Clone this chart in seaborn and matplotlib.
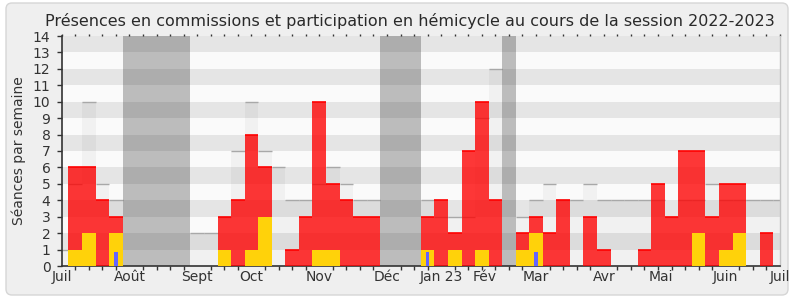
import matplotlib
matplotlib.use("Agg")
import matplotlib.pyplot as plt
import matplotlib.transforms as mtransforms
from matplotlib.patches import FancyBboxPatch
import numpy as np
import pandas as pd
import seaborn as sns

# ---------------- data (one value per week, week 0 = last week of June 2022) ----
semaines = list(range(0, 54))
commission = [0, 6, 6, 4, 3, 0, 0, 0, 0, 0,
              0, 0, 3, 4, 8, 6, 0, 1, 3, 10,
              5, 4, 3, 3, 0, 0, 0, 3, 4, 2,
              7, 10, 4, 0, 2, 3, 2, 4, 0, 3,
              1, 0, 0, 1, 5, 3, 7, 7, 3, 5,
              5, 0, 2, 0]
hemicycle = [0, 1, 2, 0, 2, 0, 0, 0, 0, 0,
             0, 0, 1, 0, 1, 3, 0, 0, 0, 1,
             1, 0, 0, 0, 0, 0, 0, 1, 0, 1,
             0, 1, 0, 0, 1, 2, 0, 0, 0, 0,
             0, 0, 0, 0, 0, 0, 0, 2, 0, 1,
             2, 0, 0, 0]
mediane = [1, 5, 10, 5, 4, 0, 0, 0, 0, 0,
           2, 2, 3, 7, 10, 7, 6, 4, 4, 5,
           6, 5, 4, 4, 0, 0, 0, 4, 3, 3,
           3, 9, 12, 0, 3, 4, 5, 4, 4, 5,
           4, 4, 4, 4, 4, 3, 4, 4, 5, 4,
           4, 4, 4, 4]
questions_semaines = [4, 27, 35]
questions_valeurs = [0.85, 0.85, 0.85]
vacances = [5, 6, 7, 8, 9, 24, 25, 26, 33]
mois_pos = [0, 5, 10, 14, 19, 24, 28, 31.2, 35, 40, 44.2, 49, 53]
mois_labels = ["Juil", "Août", "Sept", "Oct", "Nov", "Déc", "Jan 23", "Fév",
               "Mar", "Avr", "Mai", "Juin", "Juil"]
titre = "Présences en commissions et participation en hémicycle au cours de la session 2022-2023"
ylabel = "Séances par semaine"

# ---------------- tables ----------------
df = pd.DataFrame({"semaine": semaines, "commission": commission,
                   "hemicycle": hemicycle, "mediane": mediane})
questions = dict(zip(questions_semaines, questions_valeurs))
df["questions"] = [questions.get(s, 0) for s in semaines]
df_vac = pd.DataFrame({"semaine": vacances, "hauteur": [14] * len(vacances)})

# ---------------- style ----------------
sns.set_style("white")
plt.rcParams["font.family"] = ["DejaVu Sans"]
TXT = "#333333"

W, H = 790, 300
fig = plt.figure(figsize=(W / 100, H / 100), dpi=100, facecolor="white")
frame = FancyBboxPatch((6, 5), 782, 292, boxstyle="round,pad=0,rounding_size=6",
                       transform=mtransforms.IdentityTransform(),
                       facecolor="#efefef", edgecolor="#d6d6d6", linewidth=1.0,
                       zorder=-10)
fig.patches.append(frame)

x0, x1, ytop, ybot = 61.7, 780.0, 36.0, 266.0
ax = fig.add_axes([x0 / W, (H - ybot) / H, (x1 - x0) / W, (ybot - ytop) / H])
ax.set_facecolor("#fafafa")
for k in range(1, 14, 2):
    ax.axhspan(k, k + 1, color="#e5e5e5", lw=0, zorder=0)


def bars(data, y, **kw):
    n0 = len(ax.patches)
    sns.barplot(data=data, x="semaine", y=y, native_scale=True, errorbar=None,
                saturation=1, linewidth=0, ax=ax, **kw)
    for p in ax.patches[n0:]:
        p.set_antialiased(False)


# grey reference bars
bars(df, "mediane", color="black", alpha=0.035, width=1, zorder=1)
m = df[df.mediane > 0]
ax.hlines(m.mediane, m.semaine - 0.5, m.semaine + 0.5, color="#a8a8a8", lw=1.0, zorder=1.5)

# holidays
bars(df_vac, "hauteur", color="#252525", alpha=0.29, width=1, zorder=2)

# commissions (red)
bars(df, "commission", color="#ff0000", alpha=0.78, width=1, zorder=3)
c = df[df.commission > 0]
ax.hlines(c.commission, c.semaine - 0.5, c.semaine + 0.5, color="#ff0000", lw=1.2, zorder=3.5)

# hemicycle (yellow)
bars(df, "hemicycle", color="#ffd20a", width=1, zorder=4)

# questions (blue)
bars(df, "questions", color="#6464ff", width=0.25, zorder=5)

# ---------------- axes ----------------
ax.set_xlim(0, 53)
ax.set_ylim(0, 14)
ax.set_xlabel("")
ax.set_ylabel(ylabel, fontsize=10, color=TXT, labelpad=5)
ax.set_yticks(range(15))
ax.set_yticklabels([str(v) for v in range(15)])
ax.set_xticks(mois_pos)
ax.set_xticklabels(mois_labels)
ax.set_xticks(range(54), minor=True)
ax.tick_params(axis="y", which="major", length=3.6, width=1, color=TXT,
               labelsize=10, labelcolor=TXT, pad=4.5, left=True)
ax.tick_params(axis="x", which="major", length=0, labelsize=10,
               labelcolor=TXT, pad=3)
ax.tick_params(axis="x", which="minor", length=3.1, width=1, color=TXT, bottom=True)

sec = ax.secondary_xaxis("top")
sec.set_xticks(range(54))
sec.tick_params(length=1.2, width=1, color=TXT, labeltop=False)
sec.spines["top"].set_visible(False)

for side in ("left", "bottom"):
    ax.spines[side].set_color(TXT)
    ax.spines[side].set_linewidth(1.2)
ax.spines["top"].set_visible(False)
ax.spines["right"].set_color("#c4c4c4")
ax.spines["right"].set_linewidth(1.0)
ax.grid(False)

fig.text(409.5 / W, (H - 21) / H, titre, ha="center", va="center",
         fontsize=11.5, color="#2a2a2a")

fig.savefig("out.png", dpi=100, facecolor=fig.get_facecolor())
